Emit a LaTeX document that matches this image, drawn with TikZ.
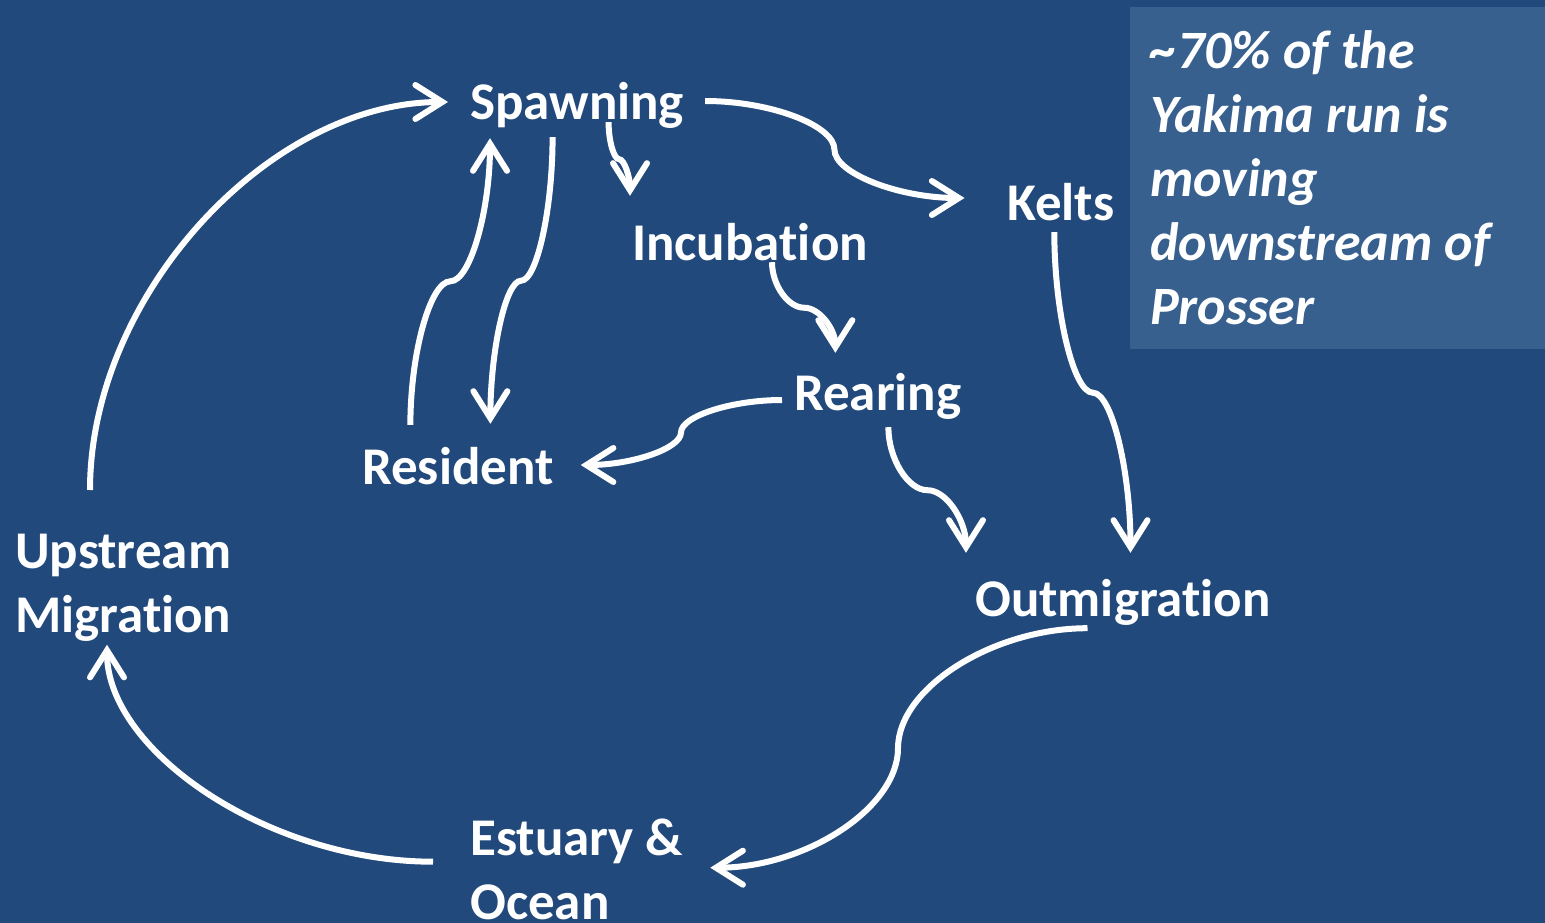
\documentclass[tikz,border=0pt]{standalone}
\usepackage{fontspec}
\setmainfont{Carlito}[Ligatures=NoCommon]
\usetikzlibrary{arrows.meta,calc}
\definecolor{slidebg}{HTML}{21497B}
\definecolor{notebg}{HTML}{37608F}
\begin{document}
\begin{tikzpicture}[
			x=1pt, y=-1pt,
			stage/.style={anchor=base west, inner sep=0, text=white, font=\bfseries\fontsize{53}{64}\selectfont, text height=36pt, text depth=12pt},
			stages/.style={anchor=north west, inner sep=0, align=flush left, text=white, font=\bfseries\fontsize{53}{64}\selectfont},
			flow/.style={draw=white, line width=6pt, -{Straight Barb[length=27pt, width=34pt, line cap=round]}}]

		\path[fill=slidebg, use as bounding box] (0,0) rectangle (1545,923);

		\node[fill=notebg, anchor=north west, minimum width=415pt, minimum height=342pt, text width=375pt, inner xsep=20pt, inner ysep=0pt, align=flush left, text=white, font=\bfseries\itshape\fontsize{54}{64}\selectfont](note) at (1130,7) {\textasciitilde70\% of the\\Yakima run is\\moving\\downstream of\\Prosser};

		\node[stage](spawning) at (470,120) {Spawning};
		\node[stage](incubation) at (632,260) {Incubation};
		\node[stage](kelts) at (1007,220) {Kelts};
		\node[stage](rearing) at (794,410) {Rearing};
		\node[stage](resident) at (362,484) {Resident};
		\node[stage](outmigration) at (975,616) {Outmigration};
		\node[stages](upstream) at (15,534) {Upstream\\Migration};
		\node[stages](estuary) at (470,819) {Estuary \&\\Ocean};

		\draw[flow] ($(upstream.north west)+(75,-44)$) .. controls +(0,-194.5) and +(-179,0) .. ($(spawning.west)+(-22,-6)$);
		\draw[flow] ($(spawning.east)+(21,-7)$) .. controls +(64.6,0) and +(0,-24.25) .. ++(129.25,48.5) .. controls +(0,24.25) and +(-64.6,0) .. ($(kelts.west)+(-42.5,-10)$);
		\draw[flow] ($(spawning.south)+(31.5,-10)$) .. controls +(0,18.5) and +(-5.25,0) .. ++(10.5,37) .. controls +(5.25,0) and +(0,-18.5) .. ($(incubation.north west)+(-2,-28)$);
		\draw[flow] ($(spawning.south)+(-24.5,5)$) .. controls +(0,71.75) and +(15.75,0) .. ++(-31.5,143.5) .. controls +(-15.75,0) and +(0,-71.75) .. ($(resident.north)+(32.5,-24)$);
		\draw[flow] ($(resident.north)+(-47.5,-23)$) .. controls +(0,-71.75) and +(-20,0) .. ++(40,-143.5) .. controls +(20,0) and +(0,71.75) .. ($(spawning.south west)+(20,6)$);
		\draw[flow] ($(kelts.south)+(-6.5,0)$) .. controls +(0,80.25) and +(-19.25,0) .. ++(38.5,160.5) .. controls +(19.25,0) and +(0,-80.25) .. ($(outmigration.north)+(7.5,-27)$);
		\draw[flow] ($(incubation.south)+(22,-10)$) .. controls +(0,22.75) and +(-16,0) .. ++(32,45.5) .. controls +(16,0) and +(0,-22.75) .. ($(rearing.north)+(-42.5,-21)$);
		\draw[flow] ($(rearing.west)+(-12,2)$) .. controls +(-50.5,0) and +(0,-16.25) .. ++(-101,32.5) .. controls +(0,16.25) and +(50.5,0) .. ($(resident.east)+(27,-7)$);
		\draw[flow] ($(rearing.south)+(10.5,5)$) .. controls +(0,31.5) and +(-19.5,0) .. ++(39,63) .. controls +(19.5,0) and +(0,-31.5) .. ($(outmigration.north west)+(-9,-27)$);
		\draw[flow] ($(outmigration.south)+(-35.5,0)$) .. controls +(-94.75,0) and +(0,-60) .. ++(-189.5,120) .. controls +(0,60) and +(94.75,0) .. ($(estuary.east)+(27,-2)$);
		\draw[flow] ($(estuary.west)+(-37,-8)$) .. controls +(-163,0) and +(0,107) .. ($(upstream.south west)+(92,3)$);
	\end{tikzpicture}
\end{document}
